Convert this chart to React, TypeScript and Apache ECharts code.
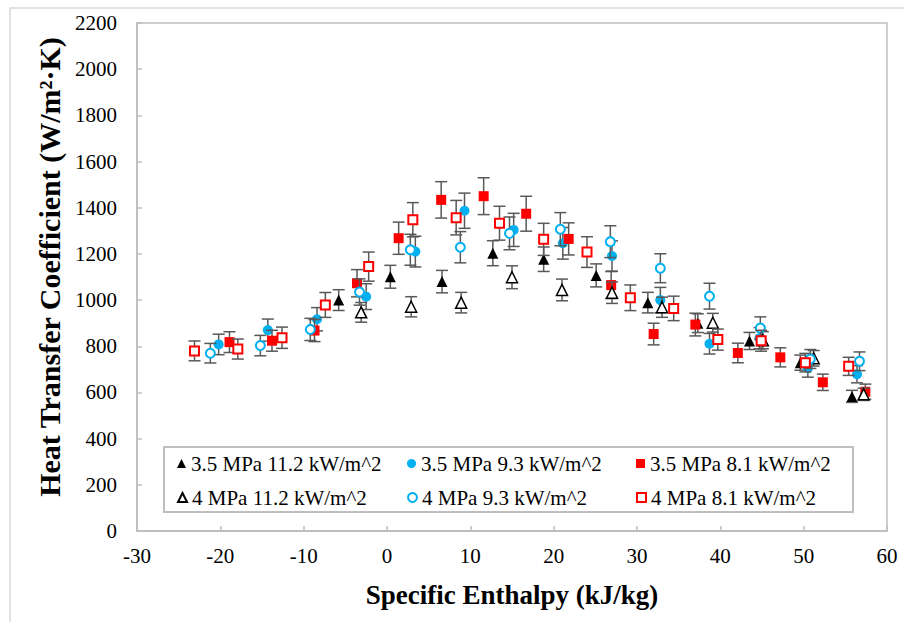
import React, { useEffect, useRef } from "react";
import * as echarts from "echarts";

const X_MIN = -30;
const X_MAX = 60;
const X_STEP = 10;
const Y_MIN = 0;
const Y_MAX = 2200;
const Y_STEP = 200;

const X_TITLE = "Specific Enthalpy (kJ/kg)";
const Y_TITLE = "Heat Transfer Coefficient (W/m\u00B2\u00B7K)";

const NAMES = [
  "3.5 MPa 11.2 kW/m^2",
  "3.5 MPa 9.3 kW/m^2",
  "3.5 MPa 8.1 kW/m^2",
  "4 MPa 11.2 kW/m^2",
  "4 MPa 9.3 kW/m^2",
  "4 MPa 8.1 kW/m^2",
];

// 3.5 MPa 11.2 kW/m^2
const S1_X = [-5.8, 0.4, 6.6, 12.7, 18.8, 25.1, 31.3, 37.3, 43.5, 49.6, 55.8];
const S1_Y = [1000, 1101, 1080, 1203, 1177, 1107, 989, 900, 823, 729, 583];
// 3.5 MPa 9.3 kW/m^2
const S2_X = [-20.2, -14.3, -8.4, -2.5, 3.4, 9.3, 15.2, 21.1, 27.0, 32.8, 38.7, 44.7, 50.5, 56.4];
const S2_Y = [808, 870, 917, 1015, 1210, 1387, 1304, 1246, 1191, 1000, 811, 835, 705, 679];
// 3.5 MPa 8.1 kW/m^2
const S3_X = [-18.9, -13.8, -8.7, -3.6, 1.4, 6.5, 11.6, 16.7, 21.8, 26.9, 32.0, 37.0, 42.1, 47.2, 52.3, 57.4];
const S3_Y = [818, 824, 868, 1073, 1268, 1434, 1450, 1374, 1265, 1065, 853, 894, 771, 752, 644, 603];
// 4 MPa 11.2 kW/m^2
const S4_X = [-3.1, 2.9, 8.9, 15.0, 21.0, 27.0, 33.0, 39.1, 45.1, 51.2, 57.2];
const S4_Y = [947, 971, 989, 1099, 1044, 1032, 969, 902, 826, 748, 592];
// 4 MPa 9.3 kW/m^2
const S5_X = [-21.2, -15.2, -9.2, -3.3, 2.8, 8.8, 14.7, 20.8, 26.8, 32.8, 38.7, 44.8, 50.8, 56.7];
const S5_Y = [770, 803, 873, 1035, 1218, 1229, 1289, 1307, 1253, 1138, 1017, 879, 745, 735];
// 4 MPa 8.1 kW/m^2
const S6_X = [-23.1, -17.9, -12.6, -7.4, -2.2, 3.1, 8.3, 13.5, 18.8, 24.0, 29.2, 34.4, 39.7, 44.9, 50.2, 55.4];
const S6_Y = [780, 788, 837, 979, 1145, 1348, 1357, 1333, 1263, 1208, 1010, 964, 829, 824, 729, 713];

// Percentage error bars (as in the source spreadsheet)
const ERR_PCT = [0.045, 0.055, 0.055, 0.045, 0.055, 0.055];

const XS = [S1_X, S2_X, S3_X, S4_X, S5_X, S6_X];
const YS = [S1_Y, S2_Y, S3_Y, S4_Y, S5_Y, S6_Y];

const SERIF = "Liberation Serif";
const AXIS_GRAY = "#bfbfbf";
const ERR_COLOR = "#595959";

const STYLES = [
  { symbol: "triangle", size: 11, color: "#000000", border: "#000000", bw: 0 },
  { symbol: "circle", size: 10, color: "#00B0F0", border: "#00B0F0", bw: 0 },
  { symbol: "rect", size: 10, color: "#FF0000", border: "#FF0000", bw: 0 },
  { symbol: "triangle", size: 11, color: "#ffffff", border: "#000000", bw: 1.5 },
  { symbol: "circle", size: 9, color: "#ffffff", border: "#00B0F0", bw: 2 },
  { symbol: "rect", size: 9, color: "#ffffff", border: "#FF0000", bw: 2 },
];

const LEGEND_POS = [
  { left: 177, top: 453 },
  { left: 407, top: 453 },
  { left: 636, top: 453 },
  { left: 177, top: 487 },
  { left: 407, top: 487 },
  { left: 636, top: 487 },
];

export default function App() {
  const ref = useRef<HTMLDivElement>(null);

  useEffect(() => {
    if (!ref.current) return;
    const chart = echarts.init(ref.current, undefined, { renderer: "svg" });

    const series: any[] = [];
    NAMES.forEach((name, i) => {
      const st = STYLES[i];
      const data = XS[i].map((x, k) => [x, YS[i][k], YS[i][k] * ERR_PCT[i]]);
      series.push({
        type: "custom",
        name: "err-" + i,
        z: 10 + i * 2,
        data,
        encode: { x: 0, y: 1 },
        renderItem: (params: any, api: any) => {
          const x = api.value(0);
          const y = api.value(1);
          const e = api.value(2);
          const top = api.coord([x, y + e]);
          const bot = api.coord([x, y - e]);
          const w = 6;
          const style = { stroke: ERR_COLOR, lineWidth: 1.5 };
          return {
            type: "group",
            children: [
              { type: "line", shape: { x1: top[0], y1: top[1], x2: bot[0], y2: bot[1] }, style },
              { type: "line", shape: { x1: top[0] - w, y1: top[1], x2: top[0] + w, y2: top[1] }, style },
              { type: "line", shape: { x1: bot[0] - w, y1: bot[1], x2: bot[0] + w, y2: bot[1] }, style },
            ],
          };
        },
      });
      series.push({
        type: "scatter",
        name,
        z: 11 + i * 2,
        symbol: st.symbol,
        symbolSize: st.size,
        itemStyle: { color: st.color, borderColor: st.border, borderWidth: st.bw, opacity: 1 },
        data: data.map((d) => [d[0], d[1]]),
      });
    });

    const legends = NAMES.map((name, i) => ({
      show: true,
      data: [name],
      left: LEGEND_POS[i].left,
      top: LEGEND_POS[i].top,
      orient: "horizontal",
      itemWidth: 9,
      itemHeight: 9,
      padding: 0,
      selectedMode: false,
      z: 20,
      textStyle: { fontFamily: SERIF, fontSize: 21, color: "#000" },
    }));

    chart.setOption({
      animation: false,
      backgroundColor: "#ffffff",
      textStyle: { fontFamily: SERIF },
      grid: {
        left: 137,
        right: 17,
        top: 23,
        bottom: 91,
        show: true,
        borderColor: AXIS_GRAY,
        borderWidth: 1.5,
        containLabel: false,
      },
      legend: legends,
      graphic: [
        {
          type: "rect",
          shape: { x: 10, y: 8, width: 1000, height: 1000 },
          style: { fill: "none", stroke: "#d9d9d9", lineWidth: 1.5 },
          z: 0,
          silent: true,
        },
        {
          type: "rect",
          shape: { x: 164, y: 447, width: 689, height: 65 },
          style: { fill: "#ffffff", stroke: AXIS_GRAY, lineWidth: 2 },
          z: 5,
          silent: true,
        },
        {
          type: "text",
          x: 49,
          y: 267,
          rotation: Math.PI / 2,
          z: 20,
          silent: true,
          style: {
            text: Y_TITLE,
            fill: "#000",
            font: "bold 30px 'Liberation Serif'",
            align: "center",
            verticalAlign: "middle",
          },
        },
      ],
      xAxis: {
        type: "value",
        min: X_MIN,
        max: X_MAX,
        interval: X_STEP,
        name: X_TITLE,
        nameLocation: "middle",
        nameGap: 50,
        nameTextStyle: { fontFamily: SERIF, fontSize: 27, fontWeight: "bold", color: "#000" },
        axisLine: { show: true, onZero: false, lineStyle: { color: AXIS_GRAY, width: 2 } },
        axisTick: { show: true, inside: true, length: 5, lineStyle: { color: AXIS_GRAY, width: 1.5 } },
        axisLabel: {
          fontFamily: SERIF,
          fontSize: 21,
          color: "#000",
          margin: 14,
          formatter: (v: number) => String(v),
        },
        splitLine: { show: false },
      },
      yAxis: {
        type: "value",
        min: Y_MIN,
        max: Y_MAX,
        interval: Y_STEP,
        axisLine: { show: true, onZero: false, lineStyle: { color: AXIS_GRAY, width: 2 } },
        axisTick: { show: true, inside: true, length: 5, lineStyle: { color: AXIS_GRAY, width: 1.5 } },
        axisLabel: {
          fontFamily: SERIF,
          fontSize: 21,
          color: "#000",
          margin: 20,
          formatter: (v: number) => String(v),
        },
        splitLine: { show: false },
      },
      series,
    });

    return () => {
      chart.dispose();
    };
  }, []);

  return (
    <div
      ref={ref}
      style={{ position: "absolute", left: 0, top: 0, width: 904, height: 622, background: "#fff" }}
    />
  );
}
